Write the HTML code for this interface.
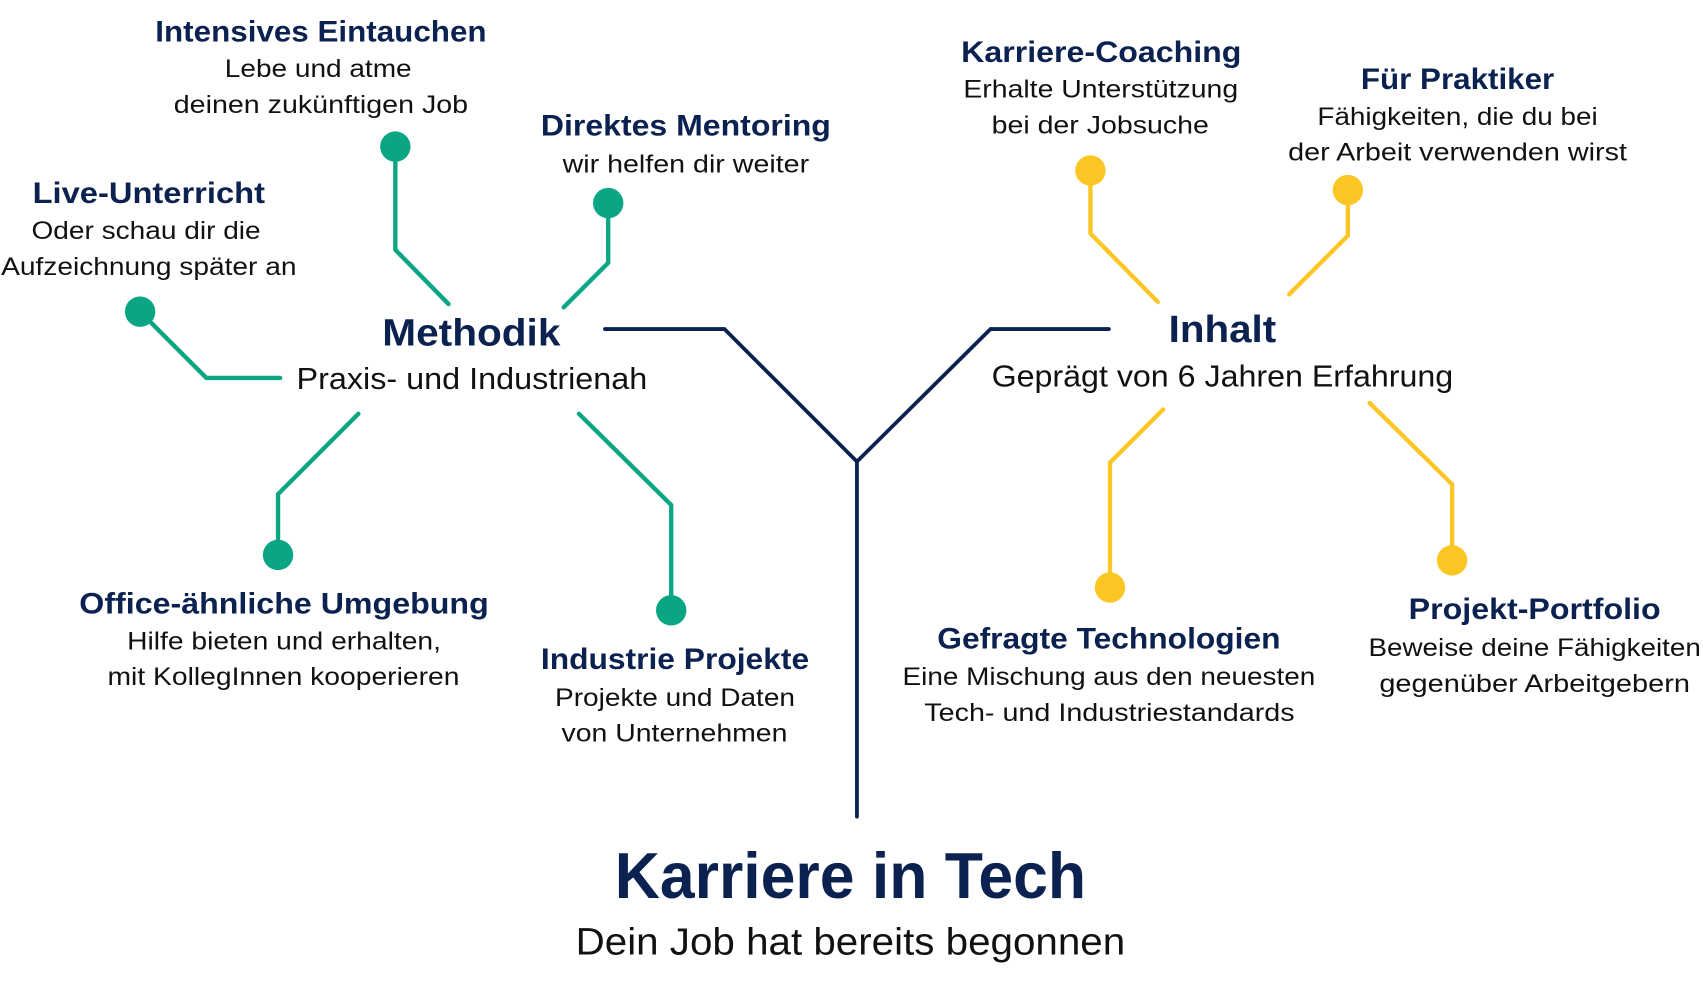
<!DOCTYPE html>
<html><head><meta charset="utf-8"><style>
html,body{margin:0;padding:0;background:#fff;width:1703px;height:985px;overflow:hidden}
svg{display:block}
.t{font-family:"Liberation Sans",sans-serif;font-weight:bold;fill:#0b2250}
.b{font-family:"Liberation Sans",sans-serif;fill:#111}
</style></head><body>
<svg width="1703" height="985" viewBox="0 0 1568 907" preserveAspectRatio="none" xmlns="http://www.w3.org/2000/svg">
<g fill="none" stroke-linecap="round" stroke-linejoin="miter">
<path d="M557,303 L667,303 L789,425 L912,303 L1021,303 M789,425 L789,752" stroke="#0b2250" stroke-width="3.5"/>
<g stroke="#0aa683" stroke-width="4">
<path d="M364,135 L364,230 L413,280"/>
<path d="M560,187 L560,242 L519,283"/>
<path d="M129,287 L190,348 L258,348"/>
<path d="M256,511 L256,455 L330,381"/>
<path d="M618,562 L618,465 L533,381"/>
</g>
<g stroke="#fcc624" stroke-width="4">
<path d="M1004,157 L1004,215 L1066,278"/>
<path d="M1241,175 L1241,217 L1187,271"/>
<path d="M1022,541 L1022,426 L1071,377"/>
<path d="M1337,516 L1337,446 L1261,371"/>
</g>
</g>
<g fill="#0aa683">
<circle cx="364" cy="135" r="14"/><circle cx="560" cy="187" r="14"/><circle cx="129" cy="287" r="14"/><circle cx="256" cy="511" r="14"/><circle cx="618" cy="562" r="14"/>
</g>
<g fill="#fcc624">
<circle cx="1004" cy="157" r="14"/><circle cx="1241" cy="175" r="14"/><circle cx="1022" cy="541" r="14"/><circle cx="1337" cy="516" r="14"/>
</g>
<g font-size="27">
<text class="t" x="143" y="38" textLength="305" lengthAdjust="spacingAndGlyphs">Intensives Eintauchen</text>
<text class="t" x="498" y="125" textLength="267" lengthAdjust="spacingAndGlyphs">Direktes Mentoring</text>
<text class="t" x="30" y="187" textLength="214" lengthAdjust="spacingAndGlyphs">Live-Unterricht</text>
<text class="t" x="73" y="565" textLength="377" lengthAdjust="spacingAndGlyphs">Office-ähnliche Umgebung</text>
<text class="t" x="498" y="616" textLength="247" lengthAdjust="spacingAndGlyphs">Industrie Projekte</text>
<text class="t" x="885" y="57" textLength="258" lengthAdjust="spacingAndGlyphs">Karriere-Coaching</text>
<text class="t" x="1253" y="82" textLength="178" lengthAdjust="spacingAndGlyphs">Für Praktiker</text>
<text class="t" x="863" y="597" textLength="316" lengthAdjust="spacingAndGlyphs">Gefragte Technologien</text>
<text class="t" x="1297" y="570" textLength="232" lengthAdjust="spacingAndGlyphs">Projekt-Portfolio</text>
</g>
<g font-size="23">
<text class="b" x="207" y="71" textLength="172" lengthAdjust="spacingAndGlyphs">Lebe und atme</text>
<text class="b" x="160" y="104" textLength="271" lengthAdjust="spacingAndGlyphs">deinen zukünftigen Job</text>
<text class="b" x="518" y="159" textLength="227" lengthAdjust="spacingAndGlyphs">wir helfen dir weiter</text>
<text class="b" x="29" y="220" textLength="211" lengthAdjust="spacingAndGlyphs">Oder schau dir die</text>
<text class="b" x="1" y="253" textLength="272" lengthAdjust="spacingAndGlyphs">Aufzeichnung später an</text>
<text class="b" x="117" y="598" textLength="289" lengthAdjust="spacingAndGlyphs">Hilfe bieten und erhalten,</text>
<text class="b" x="99" y="631" textLength="324" lengthAdjust="spacingAndGlyphs">mit KollegInnen kooperieren</text>
<text class="b" x="511" y="650" textLength="221" lengthAdjust="spacingAndGlyphs">Projekte und Daten</text>
<text class="b" x="517" y="683" textLength="208" lengthAdjust="spacingAndGlyphs">von Unternehmen</text>
<text class="b" x="887" y="90" textLength="253" lengthAdjust="spacingAndGlyphs">Erhalte Unterstützung</text>
<text class="b" x="913" y="123" textLength="200" lengthAdjust="spacingAndGlyphs">bei der Jobsuche</text>
<text class="b" x="1213" y="115" textLength="258" lengthAdjust="spacingAndGlyphs">Fähigkeiten, die du bei</text>
<text class="b" x="1186" y="148" textLength="312" lengthAdjust="spacingAndGlyphs">der Arbeit verwenden wirst</text>
<text class="b" x="831" y="631" textLength="380" lengthAdjust="spacingAndGlyphs">Eine Mischung aus den neuesten</text>
<text class="b" x="851" y="664" textLength="341" lengthAdjust="spacingAndGlyphs">Tech- und Industriestandards</text>
<text class="b" x="1260" y="604" textLength="306" lengthAdjust="spacingAndGlyphs">Beweise deine Fähigkeiten</text>
<text class="b" x="1270" y="637" textLength="286" lengthAdjust="spacingAndGlyphs">gegenüber Arbeitgebern</text>
</g>
<text class="t" x="352" y="318" font-size="35" textLength="164" lengthAdjust="spacingAndGlyphs">Methodik</text>
<text class="b" x="273" y="358" font-size="28" textLength="323" lengthAdjust="spacingAndGlyphs">Praxis- und Industrienah</text>
<text class="t" x="1076" y="315" font-size="35" textLength="99" lengthAdjust="spacingAndGlyphs">Inhalt</text>
<text class="b" x="913" y="356" font-size="28" textLength="425" lengthAdjust="spacingAndGlyphs">Geprägt von 6 Jahren Erfahrung</text>
<text class="t" x="566" y="827" font-size="60" textLength="434" lengthAdjust="spacingAndGlyphs">Karriere in Tech</text>
<text class="b" x="530" y="879" font-size="35" textLength="506" lengthAdjust="spacingAndGlyphs">Dein Job hat bereits begonnen</text>
</svg>
</body></html>
